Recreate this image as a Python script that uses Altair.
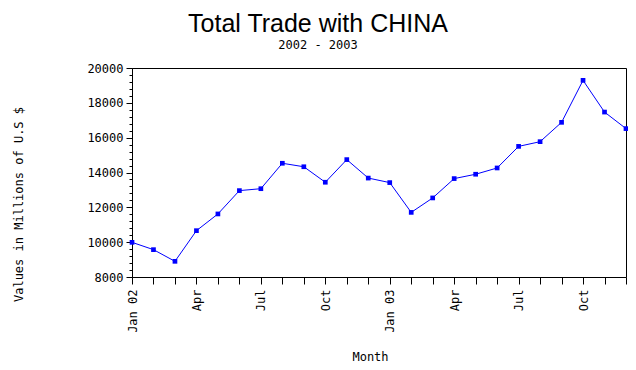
import altair as alt
import pandas as pd

month_labels = ["Jan 02", "", "", "Apr", "", "", "Jul", "", "", "Oct", "", "",
                "Jan 03", "", "", "Apr", "", "", "Jul", "", "", "Oct", "", ""]
month_index = list(range(24))
values = [9990, 9570, 8900, 10660, 11620, 12960, 13070, 14530, 14330, 13440, 14740, 13680,
          13420, 11710, 12540, 13650, 13900, 14260, 15500, 15770, 16880, 19290, 17470, 16520]
y_major = [8000, 10000, 12000, 14000, 16000, 18000, 20000]
y_minor = list(range(8000, 20001, 400))

df = pd.DataFrame({"m": month_index, "v": values})

label_arr = "[" + ",".join("'" + s + "'" for s in month_labels) + "]"
MONO = "DejaVu Sans Mono"

xscale = alt.Scale(domain=[0, 23], nice=False, zero=False)
yscale = alt.Scale(domain=[8000, 20000], nice=False, zero=False)

x_main = alt.X("m:Q", scale=xscale,
               axis=alt.Axis(values=month_index, labelExpr=label_arr + "[datum.value]",
                             labelAngle=-90, labelAlign="right", labelBaseline="middle",
                             labelFont=MONO, labelFontSize=12, labelColor="black",
                             labelPadding=5, tickSize=7, tickColor="black",
                             domainColor="black", grid=False, labelOverlap=False,
                             labelFlush=False,
                             title="Month", titleFont=MONO, titleFontSize=12,
                             titleFontWeight="normal", titleColor="black",
                             titleX=238, titleY=79, titleBaseline="middle"))
y_main = alt.Y("v:Q", scale=yscale,
               axis=alt.Axis(values=y_major, format="d", labelFont=MONO, labelFontSize=12,
                             labelColor="black", tickSize=6, tickColor="black",
                             domainColor="black", grid=False, labelPadding=3,
                             labelFlush=False,
                             title="Values in Millions of U.S $", titleFont=MONO,
                             titleFontSize=12, titleFontWeight="normal", titleColor="black",
                             titleAngle=-90, titleX=-114, titleY=136,
                             titleBaseline="middle", titleAlign="center"))

line = alt.Chart(df).mark_line(color="#0000FF", strokeWidth=1).encode(x=x_main, y=y_main)

pts = alt.Chart(df).mark_point(filled=True, shape="square", size=22, color="#0000FF",
                               opacity=1).encode(
    x=alt.X("m:Q", scale=xscale, axis=None),
    y=alt.Y("v:Q", scale=yscale, axis=None))

minor = alt.Chart(df).mark_point(opacity=0).encode(
    x=alt.X("m:Q", scale=xscale, axis=None),
    y=alt.Y("v:Q", scale=yscale,
            axis=alt.Axis(orient="left", values=y_minor, labels=False, tickSize=3,
                          tickColor="black", domain=False, grid=False, title=None)),
)

frame = alt.Chart(df).mark_point(opacity=0).encode(
    x=alt.X("m:Q", scale=xscale,
            axis=alt.Axis(orient="top", ticks=False, labels=False, grid=False,
                          domainColor="black", title=None)),
    y=alt.Y("v:Q", scale=yscale,
            axis=alt.Axis(orient="right", ticks=False, labels=False, grid=False,
                          domainColor="black", title=None)),
)

chart = alt.layer(line, pts, minor, frame).resolve_axis(
    x="independent", y="independent"
).properties(
    width=494, height=209,
    autosize=alt.AutoSizeParams(type="none"),
    padding={"left": 124, "top": 60, "right": 2, "bottom": 85},
    title=alt.TitleParams(text="Total Trade with CHINA", subtitle="2002 - 2003",
                          font="Liberation Sans", fontSize=25, fontWeight="normal",
                          color="black", subtitleFont=MONO, subtitleFontSize=12,
                          subtitleColor="black", subtitlePadding=3,
                          anchor="middle", dx=-61, offset=11),
).configure_view(strokeWidth=0).configure(background="white")

chart.save("out.html", embed_options={"renderer": "svg", "actions": False})
